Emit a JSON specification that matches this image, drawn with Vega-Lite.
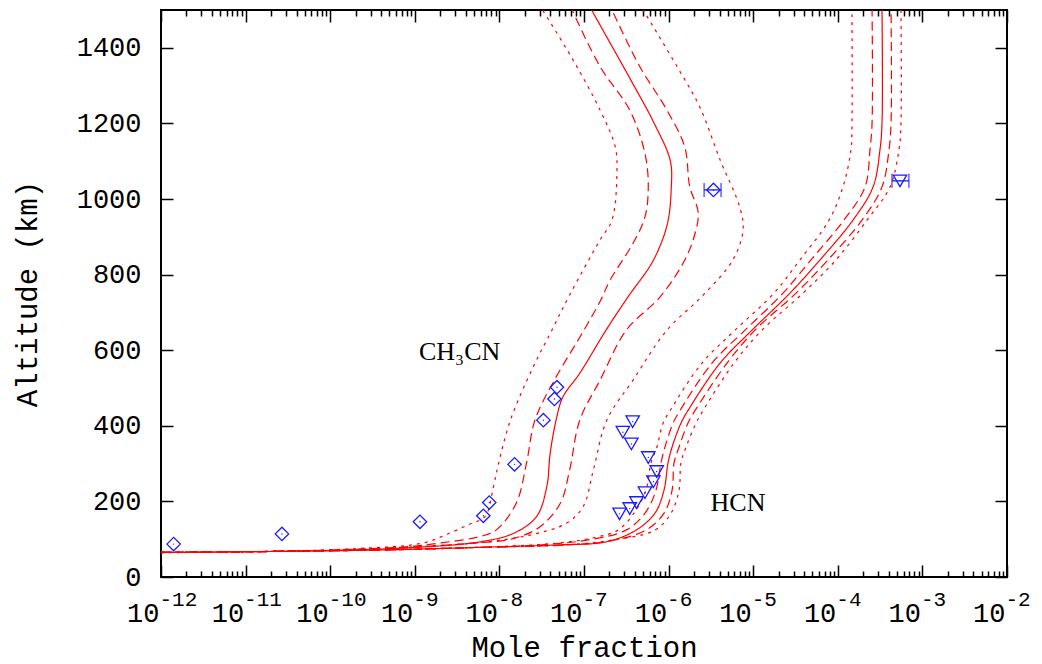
{
  "$schema": "https://vega.github.io/schema/vega-lite/v6.json",
  "width": 846,
  "height": 567,
  "autosize": "none",
  "padding": {"left": 161, "top": 10, "right": 35, "bottom": 87},
  "background": "white",
  "config": {
    "view": {"stroke": "#000000", "strokeWidth": 2},
    "axis": {
      "domain": false, "grid": false, "tickColor": "#000000", "tickWidth": 1.5,
      "labelFont": "Liberation Mono", "labelFontSize": 27, "labelColor": "#000000",
      "titleFont": "Liberation Mono", "titleFontSize": 29, "titleFontWeight": "normal", "titleColor": "#000000",
      "labelOverlap": false, "labelFlush": false
    }
  },
  "datasets": {
    "curves": [
      {"curve":"C0","band":"0","alt":1500,"x":1.23e-7},{"curve":"C0","band":"0","alt":1400,"x":2.19e-7},{"curve":"C0","band":"0","alt":1300,"x":3.89e-7},{"curve":"C0","band":"0","alt":1200,"x":6.76e-7},{"curve":"C0","band":"0","alt":1100,"x":1.05e-6},{"curve":"C0","band":"0","alt":1020,"x":1.07e-6},{"curve":"C0","band":"0","alt":950,"x":1.0e-6},{"curve":"C0","band":"0","alt":900,"x":8.71e-7},{"curve":"C0","band":"0","alt":830,"x":6.31e-7},{"curve":"C0","band":"0","alt":741,"x":3.31e-7},{"curve":"C0","band":"0","alt":653,"x":1.82e-7},{"curve":"C0","band":"0","alt":539,"x":8.91e-8},{"curve":"C0","band":"0","alt":476,"x":5.62e-8},{"curve":"C0","band":"0","alt":415,"x":4.68e-8},{"curve":"C0","band":"0","alt":327,"x":3.98e-8},{"curve":"C0","band":"0","alt":239,"x":3.63e-8},{"curve":"C0","band":"0","alt":160,"x":2.75e-8},{"curve":"C0","band":"0","alt":116,"x":1.48e-8},{"curve":"C0","band":"0","alt":93,"x":5.89e-9},{"curve":"C0","band":"0","alt":77,"x":7.94e-10},{"curve":"C0","band":"0","alt":69,"x":5.37e-11},{"curve":"C0","band":"0","alt":65,"x":1e-12},
      {"curve":"Cm2","band":"2","alt":1500,"x":3.24e-8},{"curve":"Cm2","band":"2","alt":1368,"x":7.41e-8},{"curve":"Cm2","band":"2","alt":1235,"x":1.55e-7},{"curve":"Cm2","band":"2","alt":1138,"x":2.34e-7},{"curve":"Cm2","band":"2","alt":1068,"x":2.45e-7},{"curve":"Cm2","band":"2","alt":944,"x":2.14e-7},{"curve":"Cm2","band":"2","alt":892,"x":1.55e-7},{"curve":"Cm2","band":"2","alt":746,"x":6.76e-8},{"curve":"Cm2","band":"2","alt":653,"x":4.17e-8},{"curve":"Cm2","band":"2","alt":556,"x":2.51e-8},{"curve":"Cm2","band":"2","alt":415,"x":1.35e-8},{"curve":"Cm2","band":"2","alt":291,"x":9.55e-9},{"curve":"Cm2","band":"2","alt":239,"x":8.51e-9},{"curve":"Cm2","band":"2","alt":160,"x":6.76e-9},{"curve":"Cm2","band":"2","alt":140,"x":4.47e-9},{"curve":"Cm2","band":"2","alt":115,"x":2.51e-9},{"curve":"Cm2","band":"2","alt":90,"x":1.26e-9},{"curve":"Cm2","band":"2","alt":75,"x":2.0e-10},{"curve":"Cm2","band":"2","alt":68,"x":2.0e-11},{"curve":"Cm2","band":"2","alt":64,"x":1e-12},
      {"curve":"Cm1","band":"1","alt":1500,"x":7.24e-8},{"curve":"Cm1","band":"1","alt":1350,"x":1.55e-7},{"curve":"Cm1","band":"1","alt":1235,"x":3.47e-7},{"curve":"Cm1","band":"1","alt":1121,"x":5.25e-7},{"curve":"Cm1","band":"1","alt":1032,"x":5.75e-7},{"curve":"Cm1","band":"1","alt":952,"x":5.25e-7},{"curve":"Cm1","band":"1","alt":883,"x":3.80e-7},{"curve":"Cm1","band":"1","alt":786,"x":2.04e-7},{"curve":"Cm1","band":"1","alt":733,"x":1.58e-7},{"curve":"Cm1","band":"1","alt":653,"x":1.0e-7},{"curve":"Cm1","band":"1","alt":521,"x":4.47e-8},{"curve":"Cm1","band":"1","alt":415,"x":2.63e-8},{"curve":"Cm1","band":"1","alt":301,"x":2.09e-8},{"curve":"Cm1","band":"1","alt":195,"x":1.58e-8},{"curve":"Cm1","band":"1","alt":124,"x":9.12e-9},{"curve":"Cm1","band":"1","alt":107,"x":5.89e-9},{"curve":"Cm1","band":"1","alt":90,"x":2.0e-9},{"curve":"Cm1","band":"1","alt":80,"x":7.94e-10},{"curve":"Cm1","band":"1","alt":70,"x":6.31e-11},{"curve":"Cm1","band":"1","alt":65,"x":1e-12},
      {"curve":"Cp1","band":"1","alt":1500,"x":2.14e-7},{"curve":"Cp1","band":"1","alt":1350,"x":4.57e-7},{"curve":"Cp1","band":"1","alt":1235,"x":9.55e-7},{"curve":"Cp1","band":"1","alt":1138,"x":1.55e-6},{"curve":"Cp1","band":"1","alt":1032,"x":1.78e-6},{"curve":"Cp1","band":"1","alt":963,"x":2.24e-6},{"curve":"Cp1","band":"1","alt":892,"x":1.95e-6},{"curve":"Cp1","band":"1","alt":830,"x":1.48e-6},{"curve":"Cp1","band":"1","alt":741,"x":7.94e-7},{"curve":"Cp1","band":"1","alt":653,"x":3.16e-7},{"curve":"Cp1","band":"1","alt":521,"x":1.55e-7},{"curve":"Cp1","band":"1","alt":415,"x":8.91e-8},{"curve":"Cp1","band":"1","alt":283,"x":6.76e-8},{"curve":"Cp1","band":"1","alt":195,"x":5.25e-8},{"curve":"Cp1","band":"1","alt":133,"x":3.02e-8},{"curve":"Cp1","band":"1","alt":102,"x":1.48e-8},{"curve":"Cp1","band":"1","alt":88,"x":3.98e-9},{"curve":"Cp1","band":"1","alt":77,"x":6.31e-10},{"curve":"Cp1","band":"1","alt":69,"x":5.01e-11},{"curve":"Cp1","band":"1","alt":65,"x":1e-12},
      {"curve":"Cp2","band":"2","alt":1500,"x":5.01e-7},{"curve":"Cp2","band":"2","alt":1350,"x":1.26e-6},{"curve":"Cp2","band":"2","alt":1243,"x":2.34e-6},{"curve":"Cp2","band":"2","alt":1103,"x":4.07e-6},{"curve":"Cp2","band":"2","alt":979,"x":6.92e-6},{"curve":"Cp2","band":"2","alt":918,"x":7.59e-6},{"curve":"Cp2","band":"2","alt":839,"x":5.75e-6},{"curve":"Cp2","band":"2","alt":746,"x":2.57e-6},{"curve":"Cp2","band":"2","alt":653,"x":9.55e-7},{"curve":"Cp2","band":"2","alt":521,"x":3.80e-7},{"curve":"Cp2","band":"2","alt":415,"x":1.86e-7},{"curve":"Cp2","band":"2","alt":283,"x":1.29e-7},{"curve":"Cp2","band":"2","alt":186,"x":9.77e-8},{"curve":"Cp2","band":"2","alt":142,"x":6.17e-8},{"curve":"Cp2","band":"2","alt":111,"x":2.29e-8},{"curve":"Cp2","band":"2","alt":92,"x":6.31e-9},{"curve":"Cp2","band":"2","alt":80,"x":1.0e-9},{"curve":"Cp2","band":"2","alt":70,"x":6.31e-11},{"curve":"Cp2","band":"2","alt":65,"x":1e-12},
      {"curve":"H0","band":"0","alt":1500,"x":3.33e-4},{"curve":"H0","band":"0","alt":1200,"x":3.33e-4},{"curve":"H0","band":"0","alt":1130,"x":3.15e-4},{"curve":"H0","band":"0","alt":1032,"x":2.61e-4},{"curve":"H0","band":"0","alt":944,"x":1.51e-4},{"curve":"H0","band":"0","alt":839,"x":6.17e-5},{"curve":"H0","band":"0","alt":751,"x":2.72e-5},{"curve":"H0","band":"0","alt":653,"x":9.68e-6},{"curve":"H0","band":"0","alt":566,"x":4.06e-6},{"curve":"H0","band":"0","alt":440,"x":1.69e-6},{"curve":"H0","band":"0","alt":407,"x":1.40e-6},{"curve":"H0","band":"0","alt":344,"x":1.10e-6},{"curve":"H0","band":"0","alt":302,"x":9.84e-7},{"curve":"H0","band":"0","alt":230,"x":8.83e-7},{"curve":"H0","band":"0","alt":169,"x":6.90e-7},{"curve":"H0","band":"0","alt":124,"x":4.12e-7},{"curve":"H0","band":"0","alt":93,"x":1.82e-7},{"curve":"H0","band":"0","alt":85,"x":5.01e-8},{"curve":"H0","band":"0","alt":78,"x":5.01e-9},{"curve":"H0","band":"0","alt":72,"x":5.01e-10},{"curve":"H0","band":"0","alt":68,"x":3.16e-11},{"curve":"H0","band":"0","alt":65,"x":1e-12},
      {"curve":"Hm2","band":"2","alt":1500,"x":1.47e-4},{"curve":"Hm2","band":"2","alt":1200,"x":1.47e-4},{"curve":"Hm2","band":"2","alt":1130,"x":1.43e-4},{"curve":"Hm2","band":"2","alt":1032,"x":1.15e-4},{"curve":"Hm2","band":"2","alt":944,"x":7.87e-5},{"curve":"Hm2","band":"2","alt":839,"x":3.57e-5},{"curve":"Hm2","band":"2","alt":751,"x":1.76e-5},{"curve":"Hm2","band":"2","alt":653,"x":6.10e-6},{"curve":"Hm2","band":"2","alt":566,"x":2.48e-6},{"curve":"Hm2","band":"2","alt":440,"x":1.04e-6},{"curve":"Hm2","band":"2","alt":407,"x":8.59e-7},{"curve":"Hm2","band":"2","alt":344,"x":7.29e-7},{"curve":"Hm2","band":"2","alt":302,"x":6.19e-7},{"curve":"Hm2","band":"2","alt":230,"x":5.41e-7},{"curve":"Hm2","band":"2","alt":169,"x":3.90e-7},{"curve":"Hm2","band":"2","alt":124,"x":2.52e-7},{"curve":"Hm2","band":"2","alt":106,"x":1.43e-7},{"curve":"Hm2","band":"2","alt":90,"x":5.01e-8},{"curve":"Hm2","band":"2","alt":78,"x":5.01e-9},{"curve":"Hm2","band":"2","alt":72,"x":5.01e-10},{"curve":"Hm2","band":"2","alt":68,"x":3.16e-11},{"curve":"Hm2","band":"2","alt":65,"x":1e-12},
      {"curve":"Hm1","band":"1","alt":1500,"x":2.54e-4},{"curve":"Hm1","band":"1","alt":1200,"x":2.54e-4},{"curve":"Hm1","band":"1","alt":1130,"x":2.40e-4},{"curve":"Hm1","band":"1","alt":1032,"x":2.10e-4},{"curve":"Hm1","band":"1","alt":944,"x":1.18e-4},{"curve":"Hm1","band":"1","alt":839,"x":4.82e-5},{"curve":"Hm1","band":"1","alt":751,"x":2.25e-5},{"curve":"Hm1","band":"1","alt":653,"x":8.0e-6},{"curve":"Hm1","band":"1","alt":566,"x":3.26e-6},{"curve":"Hm1","band":"1","alt":440,"x":1.36e-6},{"curve":"Hm1","band":"1","alt":407,"x":1.13e-6},{"curve":"Hm1","band":"1","alt":344,"x":9.06e-7},{"curve":"Hm1","band":"1","alt":302,"x":8.13e-7},{"curve":"Hm1","band":"1","alt":230,"x":7.10e-7},{"curve":"Hm1","band":"1","alt":169,"x":5.26e-7},{"curve":"Hm1","band":"1","alt":124,"x":3.13e-7},{"curve":"Hm1","band":"1","alt":100,"x":1.26e-7},{"curve":"Hm1","band":"1","alt":85,"x":3.16e-8},{"curve":"Hm1","band":"1","alt":78,"x":5.01e-9},{"curve":"Hm1","band":"1","alt":72,"x":5.01e-10},{"curve":"Hm1","band":"1","alt":68,"x":3.16e-11},{"curve":"Hm1","band":"1","alt":65,"x":1e-12},
      {"curve":"Hp1","band":"1","alt":1500,"x":4.26e-4},{"curve":"Hp1","band":"1","alt":1200,"x":4.26e-4},{"curve":"Hp1","band":"1","alt":1130,"x":4.03e-4},{"curve":"Hp1","band":"1","alt":1032,"x":3.33e-4},{"curve":"Hp1","band":"1","alt":944,"x":1.93e-4},{"curve":"Hp1","band":"1","alt":839,"x":7.66e-5},{"curve":"Hp1","band":"1","alt":751,"x":3.21e-5},{"curve":"Hp1","band":"1","alt":653,"x":1.05e-5},{"curve":"Hp1","band":"1","alt":566,"x":4.90e-6},{"curve":"Hp1","band":"1","alt":440,"x":2.05e-6},{"curve":"Hp1","band":"1","alt":407,"x":1.69e-6},{"curve":"Hp1","band":"1","alt":344,"x":1.33e-6},{"curve":"Hp1","band":"1","alt":302,"x":1.16e-6},{"curve":"Hp1","band":"1","alt":230,"x":1.10e-6},{"curve":"Hp1","band":"1","alt":169,"x":8.83e-7},{"curve":"Hp1","band":"1","alt":124,"x":5.41e-7},{"curve":"Hp1","band":"1","alt":95,"x":2.0e-7},{"curve":"Hp1","band":"1","alt":85,"x":6.31e-8},{"curve":"Hp1","band":"1","alt":78,"x":5.01e-9},{"curve":"Hp1","band":"1","alt":72,"x":5.01e-10},{"curve":"Hp1","band":"1","alt":68,"x":3.16e-11},{"curve":"Hp1","band":"1","alt":65,"x":1e-12},
      {"curve":"Hp2","band":"2","alt":1500,"x":5.58e-4},{"curve":"Hp2","band":"2","alt":1200,"x":5.58e-4},{"curve":"Hp2","band":"2","alt":1130,"x":5.28e-4},{"curve":"Hp2","band":"2","alt":1032,"x":4.14e-4},{"curve":"Hp2","band":"2","alt":944,"x":2.21e-4},{"curve":"Hp2","band":"2","alt":839,"x":9.53e-5},{"curve":"Hp2","band":"2","alt":751,"x":3.88e-5},{"curve":"Hp2","band":"2","alt":653,"x":1.27e-5},{"curve":"Hp2","band":"2","alt":566,"x":5.93e-6},{"curve":"Hp2","band":"2","alt":440,"x":2.55e-6},{"curve":"Hp2","band":"2","alt":407,"x":2.11e-6},{"curve":"Hp2","band":"2","alt":344,"x":1.61e-6},{"curve":"Hp2","band":"2","alt":302,"x":1.40e-6},{"curve":"Hp2","band":"2","alt":230,"x":1.33e-6},{"curve":"Hp2","band":"2","alt":169,"x":1.07e-6},{"curve":"Hp2","band":"2","alt":124,"x":6.90e-7},{"curve":"Hp2","band":"2","alt":98,"x":2.19e-7},{"curve":"Hp2","band":"2","alt":85,"x":6.31e-8},{"curve":"Hp2","band":"2","alt":78,"x":5.01e-9},{"curve":"Hp2","band":"2","alt":72,"x":5.01e-10},{"curve":"Hp2","band":"2","alt":68,"x":3.16e-11},{"curve":"Hp2","band":"2","alt":65,"x":1e-12}
    ],
    "obs": [
      {"species":"CH3CN","x":1.41e-12,"alt":87},{"species":"CH3CN","x":2.69e-11,"alt":114},{"species":"CH3CN","x":1.15e-9,"alt":146},{"species":"CH3CN","x":6.46e-9,"alt":162},{"species":"CH3CN","x":7.59e-9,"alt":197},{"species":"CH3CN","x":1.51e-8,"alt":298},{"species":"CH3CN","x":3.31e-8,"alt":415},{"species":"CH3CN","x":4.47e-8,"alt":471},{"species":"CH3CN","x":4.79e-8,"alt":502},{"species":"CH3CN","x":3.39e-6,"alt":1024},
      {"species":"HCN","x":3.76e-7,"alt":411},{"species":"HCN","x":2.88e-7,"alt":383},{"species":"HCN","x":3.63e-7,"alt":352},{"species":"HCN","x":5.75e-7,"alt":316},{"species":"HCN","x":7.24e-7,"alt":279},{"species":"HCN","x":6.61e-7,"alt":252},{"species":"HCN","x":5.25e-7,"alt":223},{"species":"HCN","x":4.17e-7,"alt":197},{"species":"HCN","x":3.47e-7,"alt":181},{"species":"HCN","x":2.63e-7,"alt":167},{"species":"HCN","x":5.43e-4,"alt":1048}
    ],
    "err": [
      {"species":"CH3CN","alt":1024,"lo":2.63e-6,"hi":4.17e-6},
      {"species":"HCN","alt":1048,"lo":4.37e-4,"hi":6.92e-4}
    ],
    "labels": [
      {"label":"CH₃CN","x":3.39e-9,"alt":595},
      {"label":"HCN","x":6.61e-6,"alt":196}
    ]
  },
  "resolve": {"scale": {"x": "shared", "y": "shared"}, "axis": {"x": "independent", "y": "independent"}},
  "layer": [
    {
      "data": {"name": "curves"},
      "mark": {"type": "line", "color": "#ff0000", "strokeWidth": 1.2, "interpolate": "catmull-rom"},
      "encoding": {
        "x": {"field": "x", "type": "quantitative", "scale": {"type": "log", "domain": [1e-12, 1e-2], "nice": false},
          "axis": {"orient": "bottom", "values": [1e-12,1e-11,1e-10,1e-9,1e-8,1e-7,1e-6,1e-5,1e-4,1e-3,1e-2], "tickSize": -12,
            "labelExpr": "'10'", "labelAlign": "right", "labelOffset": -2, "labelBaseline": "alphabetic", "labelPadding": 56,
            "title": "Mole fraction", "titlePadding": 7}},
        "y": {"field": "alt", "type": "quantitative", "scale": {"domain": [0, 1500], "nice": false, "zero": false},
          "axis": {"orient": "left", "values": [0,200,400,600,800,1000,1200,1400], "format": "d", "tickSize": -12, "labelPadding": 32,
            "title": "Altitude (km)", "titlePadding": 34}},
        "detail": {"field": "curve"},
        "order": {"field": "alt", "type": "quantitative"},
        "strokeDash": {"field": "band", "type": "nominal", "scale": {"domain": ["0","1","2"], "range": [[1,0],[9,5],[3,5]]}, "legend": null}
      }
    },
    {
      "data": {"name": "obs"},
      "mark": {"type": "point", "filled": false, "color": "#1a1aff", "strokeWidth": 1.3, "size": 180, "opacity": 1},
      "encoding": {
        "x": {"field": "x", "type": "quantitative", "scale": {"type": "log", "domain": [1e-12, 1e-2], "nice": false},
          "axis": {"orient": "bottom", "values": [1e-12,1e-11,1e-10,1e-9,1e-8,1e-7,1e-6,1e-5,1e-4,1e-3,1e-2], "ticks": false, "tickSize": 0,
            "labelExpr": "'-' + format(-round(log(datum.value)/LN10), 'd')", "labelFontSize": 21, "labelAlign": "left", "labelOffset": -2,
            "labelBaseline": "alphabetic", "labelPadding": 28, "title": null}},
        "y": {"field": "alt", "type": "quantitative", "scale": {"domain": [0, 1500], "nice": false, "zero": false},
          "axis": {"orient": "right", "values": [0,200,400,600,800,1000,1200,1400], "tickSize": -12, "labels": false, "title": null}},
        "shape": {"field": "species", "type": "nominal", "scale": {"domain": ["CH3CN","HCN"], "range": ["diamond","triangle-down"]}, "legend": null}
      }
    },
    {
      "data": {"name": "obs"},
      "mark": {"type": "circle", "color": "#1a1aff", "size": 2, "opacity": 1},
      "encoding": {
        "x": {"field": "x", "type": "quantitative", "scale": {"type": "log", "domain": [1e-12, 1e-2], "nice": false},
          "axis": {"orient": "bottom", "values": [2e-12,3e-12,4e-12,5e-12,6e-12,7e-12,8e-12,9e-12,2e-11,3e-11,4e-11,5e-11,6e-11,7e-11,8e-11,9e-11,2e-10,3e-10,4e-10,5e-10,6e-10,7e-10,8e-10,9e-10,2e-9,3e-9,4e-9,5e-9,6e-9,7e-9,8e-9,9e-9,2e-8,3e-8,4e-8,5e-8,6e-8,7e-8,8e-8,9e-8,2e-7,3e-7,4e-7,5e-7,6e-7,7e-7,8e-7,9e-7,2e-6,3e-6,4e-6,5e-6,6e-6,7e-6,8e-6,9e-6,2e-5,3e-5,4e-5,5e-5,6e-5,7e-5,8e-5,9e-5,2e-4,3e-4,4e-4,5e-4,6e-4,7e-4,8e-4,9e-4,2e-3,3e-3,4e-3,5e-3,6e-3,7e-3,8e-3,9e-3],
            "tickSize": -6, "labels": false, "title": null}},
        "y": {"field": "alt", "type": "quantitative", "scale": {"domain": [0, 1500], "nice": false, "zero": false}, "axis": null}
      }
    },
    {
      "data": {"name": "err"},
      "mark": {"type": "rule", "color": "#1a1aff", "strokeWidth": 1.3},
      "encoding": {
        "x": {"field": "lo", "type": "quantitative", "scale": {"type": "log", "domain": [1e-12, 1e-2], "nice": false},
          "axis": {"orient": "top", "values": [1e-12,1e-11,1e-10,1e-9,1e-8,1e-7,1e-6,1e-5,1e-4,1e-3,1e-2], "tickSize": -12, "labels": false, "title": null}},
        "x2": {"field": "hi"},
        "y": {"field": "alt", "type": "quantitative", "scale": {"domain": [0, 1500], "nice": false, "zero": false}, "axis": null}
      }
    },
    {
      "data": {"name": "err"},
      "mark": {"type": "tick", "orient": "vertical", "color": "#1a1aff", "thickness": 1.5, "size": 14},
      "encoding": {
        "x": {"field": "lo", "type": "quantitative", "scale": {"type": "log", "domain": [1e-12, 1e-2], "nice": false},
          "axis": {"orient": "top", "values": [2e-12,3e-12,4e-12,5e-12,6e-12,7e-12,8e-12,9e-12,2e-11,3e-11,4e-11,5e-11,6e-11,7e-11,8e-11,9e-11,2e-10,3e-10,4e-10,5e-10,6e-10,7e-10,8e-10,9e-10,2e-9,3e-9,4e-9,5e-9,6e-9,7e-9,8e-9,9e-9,2e-8,3e-8,4e-8,5e-8,6e-8,7e-8,8e-8,9e-8,2e-7,3e-7,4e-7,5e-7,6e-7,7e-7,8e-7,9e-7,2e-6,3e-6,4e-6,5e-6,6e-6,7e-6,8e-6,9e-6,2e-5,3e-5,4e-5,5e-5,6e-5,7e-5,8e-5,9e-5,2e-4,3e-4,4e-4,5e-4,6e-4,7e-4,8e-4,9e-4,2e-3,3e-3,4e-3,5e-3,6e-3,7e-3,8e-3,9e-3],
            "tickSize": -6, "labels": false, "title": null}},
        "y": {"field": "alt", "type": "quantitative", "scale": {"domain": [0, 1500], "nice": false, "zero": false}, "axis": null}
      }
    },
    {
      "data": {"name": "err"},
      "mark": {"type": "tick", "orient": "vertical", "color": "#1a1aff", "thickness": 1.5, "size": 14},
      "encoding": {
        "x": {"field": "hi", "type": "quantitative", "scale": {"type": "log", "domain": [1e-12, 1e-2], "nice": false}, "axis": null},
        "y": {"field": "alt", "type": "quantitative", "scale": {"domain": [0, 1500], "nice": false, "zero": false}, "axis": null}
      }
    },
    {
      "data": {"name": "labels"},
      "mark": {"type": "text", "font": "Liberation Serif", "fontSize": 26, "color": "#000000", "align": "center", "baseline": "middle"},
      "encoding": {
        "x": {"field": "x", "type": "quantitative", "scale": {"type": "log", "domain": [1e-12, 1e-2], "nice": false}, "axis": null},
        "y": {"field": "alt", "type": "quantitative", "scale": {"domain": [0, 1500], "nice": false, "zero": false}, "axis": null},
        "text": {"field": "label"}
      }
    }
  ]
}
